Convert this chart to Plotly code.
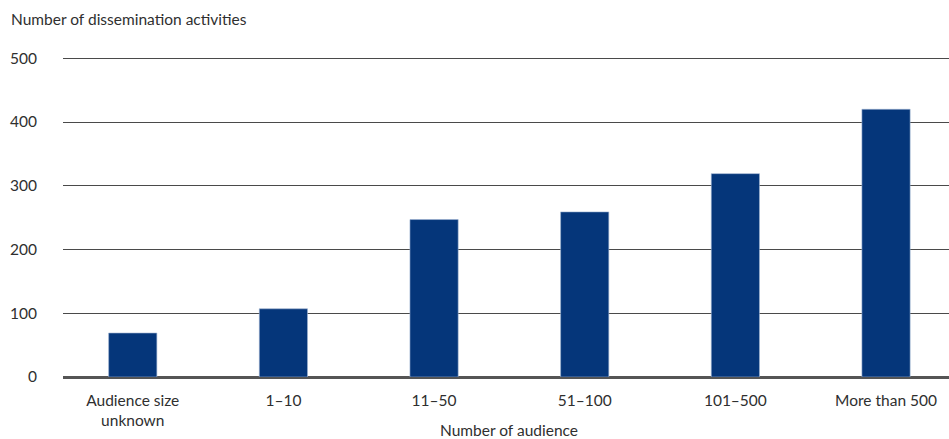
import plotly.graph_objects as go

categories = ["Audience size<br>unknown", "1–10", "11–50", "51–100", "101–500", "More than 500"]
values = [69, 107, 247, 259, 319, 420]
y_ticks = [0, 100, 200, 300, 400, 500]

font_family = "Lato, 'Open Sans', sans-serif"
text_color = "#2f2f2f"
fs = 15.5

fig = go.Figure(go.Bar(
    x=categories,
    y=values,
    width=0.32,
    marker=dict(color="#05367a", line=dict(color="#9fb3d1", width=0.6)),
    hoverinfo="x+y",
))

fig.update_layout(
    width=949,
    height=439,
    margin=dict(l=63, r=0, t=57, b=62, autoexpand=False),
    paper_bgcolor="white",
    plot_bgcolor="white",
    font=dict(family=font_family, size=fs, color=text_color),
    showlegend=False,
    xaxis=dict(
        type="category",
        range=[-0.463, 5.418],
        showgrid=False,
        showline=False,
        ticks="",
        automargin=False,
        ticklabelstandoff=12,
        tickfont=dict(size=fs, color=text_color),
        fixedrange=True,
    ),
    yaxis=dict(
        range=[0, 502],
        tickvals=y_ticks,
        showgrid=True,
        gridcolor="#4a4a4a",
        gridwidth=1,
        zeroline=True,
        zerolinecolor="#555555",
        zerolinewidth=2.5,
        ticks="",
        automargin=False,
        ticklabelstandoff=25,
        tickfont=dict(size=fs, color=text_color),
        fixedrange=True,
    ),
    annotations=[
        dict(
            text="Number of dissemination activities",
            xref="paper", yref="paper", x=0, y=1,
            xanchor="left", yanchor="middle",
            xshift=-54, yshift=38,
            showarrow=False,
            font=dict(size=fs, color=text_color),
        ),
        dict(
            text="Number of audience",
            xref="paper", yref="paper", x=0.5, y=0,
            xanchor="center", yanchor="middle",
            xshift=3, yshift=-53,
            showarrow=False,
            font=dict(size=fs, color=text_color),
        ),
    ],
)

fig.write_html(
    "out.html",
    config={"displayModeBar": False},
    post_script="document.body.style.margin='0';document.body.style.overflow='hidden';",
)
